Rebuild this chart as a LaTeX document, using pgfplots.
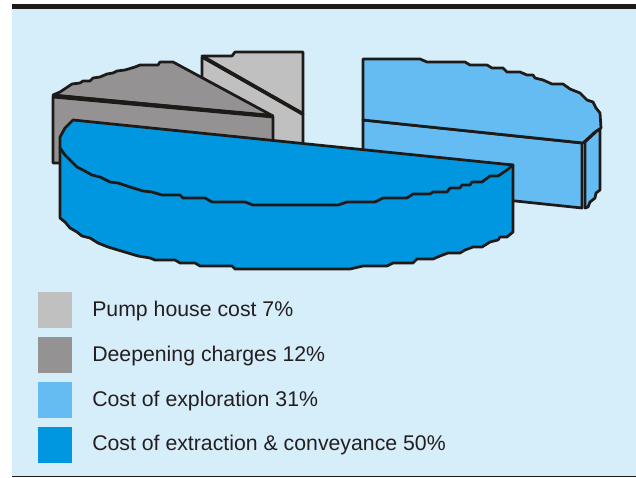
\documentclass[border=0pt]{standalone}
\usepackage{pgfplots}
\pgfplotsset{compat=1.18}
\usepackage{fontspec}
\setmainfont{Liberation Sans}
\definecolor{bg}{HTML}{D6EDFA}
\definecolor{ink}{HTML}{1E1A18}
\definecolor{pump}{HTML}{C0C0C0}
\definecolor{deep}{HTML}{949293}
\definecolor{expl}{HTML}{64BCF2}
\definecolor{extr}{HTML}{0096E0}
\definecolor{txt}{HTML}{231F20}
\begin{document}
\begin{tikzpicture}
\begin{axis}[scale only axis,width=477pt,height=358.5pt,xmin=0,xmax=636,ymin=0,ymax=478,y dir=reverse,hide axis,
  every axis plot/.append style={no marks,line join=round},
  pie/.style={draw=ink,line width=2.05pt}]
% page and background
\addplot[fill=white,draw=none] coordinates {(0,0)(636,0)(636,478)(0,478)} --cycle;
\addplot[fill=bg,draw=none] coordinates {(12,6)(636,6)(636,477)(12,477)} --cycle;
\addplot[fill=ink,draw=none] coordinates {(12,4)(636,4)(636,9)(12,9)} --cycle;
\addplot[fill=ink,draw=none] coordinates {(12,476.3)(636,476.3)(636,477.3)(12,477.3)} --cycle;
% pump house
\addplot[pie,fill=pump] coordinates {(202,57)(303,114)(303,165)(202,110)} --cycle;
\addplot[pie,fill=pump] coordinates {(202,56)(232,56)(235,52)(303,52)(303,114)} --cycle;
\addplot[draw=ink,line width=2.8pt] coordinates {(203,57)(303,114)};
% deepening
\addplot[pie,fill=deep] coordinates {(53,97)(273,117)(273,150)(70,163)(53,163)} --cycle;
\addplot[pie,fill=deep] coordinates {(53,95)(60,92)(72,84)(80,83)(83,81)(90,81)(93,78)(100,77)(107,74)(113,73)(117,71)(125,70)(135,67)(140,65)(158,65)(160,62)(173,62)(273,116)} --cycle;
\addplot[draw=ink,line width=2.8pt] coordinates {(54,96)(273,116)};
% exploration
\addplot[pie,fill=expl] coordinates {(363,120)(582,143)(582,208)(363,185)} --cycle;
\addplot[pie,fill=expl] coordinates {(585,142)(600,128)(600,190)(596,193)(595,198)(590,202)(588,207)(585,208)} --cycle;
\addplot[pie,fill=expl] coordinates {(363,59)(420,59)(427,62)(465,62)(470,65)(487,65)(492,68)(503,68)(507,72)(520,72)(527,75)(533,75)(535,78)(543,80)(552,84)(563,84)(570,89)(580,93)(587,100)(593,102)(596,108)(600,113)(601,128)(595,132)(583,143)(363,120)} --cycle;
% extraction
\addplot[pie,fill=extr] coordinates {(60,148)(60,218)(65,222)(70,228)(77,232)(82,236)(90,238)(98,243)(108,247)(118,250)(128,253)(138,256)(150,258)(155,260)(175,260)(180,263)(195,263)(200,266)(232,266)(235,269)(350,269)(363,266)(387,266)(393,263)(413,263)(417,259)(433,259)(440,256)(448,253)(460,253)(465,250)(473,247)(482,247)(490,242)(498,240)(500,237)(507,237)(513,232)(513,165)} --cycle;
\addplot[pie,fill=extr] coordinates {(73,120)(513,165)(507,170)(498,176)(490,176)(482,182)(472,182)(470,185)(462,185)(460,188)(450,188)(447,192)(433,192)(430,194)(413,194)(407,198)(383,198)(375,202)(347,202)(338,205)(253,205)(245,202)(212,202)(205,198)(183,198)(180,195)(162,195)(152,192)(143,191)(130,187)(118,183)(110,182)(100,177)(92,175)(83,170)(77,167)(65,155)(60,148)(60,137)(65,128)(68,125)} --cycle;
% legend swatches
\addplot[fill=pump,draw=none] coordinates {(38,292)(72,292)(72,328)(38,328)} --cycle;
\addplot[fill=deep,draw=none] coordinates {(38,337)(72,337)(72,373)(38,373)} --cycle;
\addplot[fill=expl,draw=none] coordinates {(38,382)(72,382)(72,418)(38,418)} --cycle;
\addplot[fill=extr,draw=none] coordinates {(38,427)(72,427)(72,463)(38,463)} --cycle;
\tikzset{lg/.style={anchor=base west,inner sep=0pt,text=txt,font=\fontsize{15.95}{16}\selectfont}}
\node[lg] at (axis cs:92,316.5) {Pump house cost 7\%};
\node[lg] at (axis cs:92,361.5) {Deepening charges 12\%};
\node[lg] at (axis cs:92,406) {Cost of exploration 31\%};
\node[lg] at (axis cs:92,450.5) {Cost of extraction \& conveyance 50\%};
\end{axis}
\end{tikzpicture}
\end{document}
